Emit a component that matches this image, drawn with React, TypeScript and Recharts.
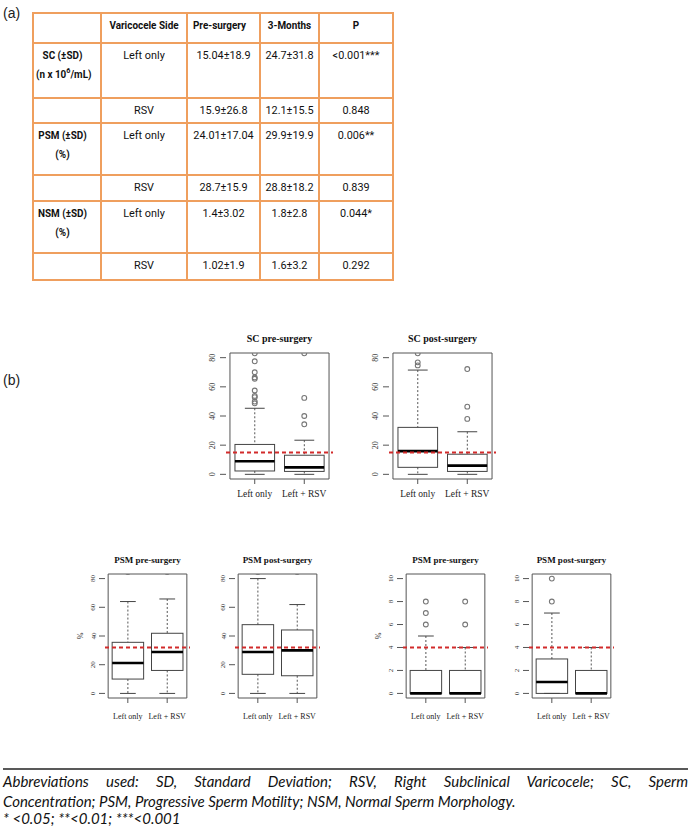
import React from "react";
import { ComposedChart, Bar, Scatter, XAxis, YAxis, ReferenceLine, ReferenceArea } from "recharts";

// ---------- table data ----------
const tableHeaders = ["", "Varicocele Side", "Pre-surgery", "3-Months", "P"];
const measureNames = ["SC (±SD)", "PSM (±SD)", "NSM (±SD)"];
const measureUnits = ["(n x 10^6/mL)", "(%)", "(%)"];
const sides = ["Left only", "RSV"];
const preSurgery = ["15.04±18.9", "15.9±26.8", "24.01±17.04", "28.7±15.9", "1.4±3.02", "1.02±1.9"];
const threeMonths = ["24.7±31.8", "12.1±15.5", "29.9±19.9", "28.8±18.2", "1.8±2.8", "1.6±3.2"];
const pValues = ["<0.001***", "0.848", "0.006**", "0.839", "0.044*", "0.292"];

// ---------- box plot data ----------
const groups = ["Left only", "Left + RSV"];

const scPreLow = [0, 0];
const scPreQ1 = [2.3, 2];
const scPreMedian = [9, 4.8];
const scPreQ3 = [20.5, 13.1];
const scPreHigh = [45.3, 23.4];
const scPreOutLeft = [48.7, 49.9, 52.9, 53.8, 57.5, 65.5, 66.4, 70, 77.5, 83];
const scPreOutRsv = [34.3, 40, 52.4, 83];

const scPostLow = [0, 0];
const scPostQ1 = [4.8, 2];
const scPostMedian = [15.9, 6];
const scPostQ3 = [32.2, 13.8];
const scPostHigh = [71.5, 29.2];
const scPostOutLeft = [74.7, 76.8, 83];
const scPostOutRsv = [38, 46.4, 72.2];

const psmPreLow = [0, 0];
const psmPreQ1 = [10, 16];
const psmPreMedian = [21.2, 28.8];
const psmPreQ3 = [35.6, 41.9];
const psmPreHigh = [64, 65.8];
const psmPreOutLeft: number[] = [];
const psmPreOutRsv: number[] = [];

const psmPostLow = [0, 0];
const psmPostQ1 = [13.3, 12.3];
const psmPostMedian = [28.8, 30];
const psmPostQ3 = [47.9, 44.2];
const psmPostHigh = [80, 61.9];
const psmPostOutLeft: number[] = [];
const psmPostOutRsv: number[] = [];

const nsmPreLow = [0, 0];
const nsmPreQ1 = [0, 0];
const nsmPreMedian = [0, 0];
const nsmPreQ3 = [2, 2];
const nsmPreHigh = [5, 4];
const nsmPreOutLeft = [6, 7, 8];
const nsmPreOutRsv = [6, 8];

const nsmPostLow = [0, 0];
const nsmPostQ1 = [0, 0];
const nsmPostMedian = [1, 0];
const nsmPostQ3 = [3, 2];
const nsmPostHigh = [7, 4];
const nsmPostOutLeft = [8, 10];
const nsmPostOutRsv: number[] = [];

const scRef = 15;
const psmRef = 32;
const nsmRef = 4;
const pctTicks = [0, 20, 40, 60, 80];
const nsmTicks = [0, 2, 4, 6, 8, 10];
const pctDomain: [number, number] = [-3.2, 83.2];
const nsmDomain: [number, number] = [-0.4, 10.4];

const footLine1 = "Abbreviations used: SD, Standard Deviation; RSV, Right Subclinical Varicocele; SC, Sperm";
const footLine2 = "Concentration; PSM, Progressive Sperm Motility; NSM, Normal Sperm Morphology.";
const footLine3 = "* <0.05; **<0.01; ***<0.001";

// ---------- layout ----------
const colX = [33, 101, 187, 260, 319, 393];
const rowY = [13, 43, 98, 123, 175, 201, 253, 280];
const ORANGE = "#EF9F5E";
const TABLE_FONT = "Roboto, 'Liberation Sans', sans-serif";
const SERIF = "'Liberation Serif', 'Times New Roman', serif";
const AX = "#555";

const BoxShape = (props: any) => {
  const { x, y, width, height, payload } = props;
  if (x == null || y == null || !payload) return null;
  const top = Math.min(y, y + height);
  const bottom = Math.max(y, y + height);
  const lo = payload.low;
  const hi = payload.high;
  const px = (v: number) => bottom - ((v - lo) / (hi - lo)) * (bottom - top);
  const cx = x + width / 2;
  const sw = width / 4;
  const yq1 = px(payload.q1);
  const yq3 = px(payload.q3);
  return (
    <g>
      <line x1={cx} x2={cx} y1={px(hi)} y2={yq3} stroke="#555" strokeWidth={1} strokeDasharray="2 2" />
      <line x1={cx} x2={cx} y1={yq1} y2={px(lo)} stroke="#555" strokeWidth={1} strokeDasharray="2 2" />
      <line x1={cx - sw} x2={cx + sw} y1={px(hi)} y2={px(hi)} stroke="#444" strokeWidth={1} />
      <line x1={cx - sw} x2={cx + sw} y1={px(lo)} y2={px(lo)} stroke="#444" strokeWidth={1} />
      <rect x={x} y={yq3} width={width} height={Math.max(0, yq1 - yq3)} fill="none" stroke="#444" strokeWidth={1} />
      <line x1={x} x2={x + width} y1={px(payload.med)} y2={px(payload.med)} stroke="#000" strokeWidth={2.6} />
    </g>
  );
};

const XTick = (props: any) => {
  const { x, y, payload, fs, dy } = props;
  return (
    <text x={x} y={y + dy} textAnchor="middle" fontSize={fs} fontFamily={SERIF} fill="#222">
      {payload.value}
    </text>
  );
};

const YTick = (props: any) => {
  const { x, y, payload, fs, dx } = props;
  const xb = x + dx;
  return (
    <text x={xb} y={y} transform={`rotate(-90 ${xb} ${y})`} textAnchor="middle" fontSize={fs} fontFamily={SERIF} fill="#333">
      {payload.value}
    </text>
  );
};

type PanelProps = {
  left: number;
  top: number;
  w: number;
  h: number;
  low: number[];
  q1: number[];
  med: number[];
  q3: number[];
  high: number[];
  outLeft: number[];
  outRsv: number[];
  domain: [number, number];
  ticks: number[];
  refY: number;
  xfs: number;
  xdy: number;
  yfs: number;
  ydx: number;
};

const YW = 30;
const XH = 30;

function BoxPanel(p: PanelProps) {
  const rows = groups.map((g, i) => ({
    group: g,
    range: [p.low[i], p.high[i]],
    low: p.low[i],
    q1: p.q1[i],
    med: p.med[i],
    q3: p.q3[i],
    high: p.high[i],
  }));
  const outliers = [
    ...p.outLeft.map((v) => ({ group: groups[0], v })),
    ...p.outRsv.map((v) => ({ group: groups[1], v })),
  ];
  const pad = (p.w * (1 - 2 / 2.16)) / 2;
  const barW = (0.8 * p.w) / 2.16;
  return (
    <div style={{ position: "absolute", left: p.left - YW, top: p.top - 2 }}>
      <ComposedChart
        width={YW + p.w + 2}
        height={p.h + XH + 2}
        data={rows}
        margin={{ top: 2, right: 2, left: 0, bottom: 0 }}
      >
        <XAxis
          dataKey="group"
          type="category"
          allowDuplicatedCategory={false}
          padding={{ left: pad, right: pad }}
          height={XH}
          axisLine={false}
          tickLine={{ stroke: AX }}
          tickSize={5}
          interval={0}
          tick={(tp: any) => <XTick {...tp} fs={p.xfs} dy={p.xdy} />}
        />
        <YAxis
          type="number"
          domain={p.domain}
          ticks={p.ticks}
          allowDataOverflow
          width={YW}
          axisLine={false}
          tickLine={{ stroke: AX }}
          tickSize={6}
          interval={0}
          tick={(tp: any) => <YTick {...tp} fs={p.yfs} dx={p.ydx} />}
        />
        <ReferenceArea y1={p.domain[0]} y2={p.domain[1]} fill="none" fillOpacity={0} stroke={AX} strokeWidth={1} ifOverflow="visible" />
        <Bar dataKey="range" barSize={barW} shape={BoxShape} isAnimationActive={false} />
        <Scatter
          data={outliers}
          dataKey="v"
          isAnimationActive={false}
          shape={(sp: any) => <circle cx={sp.cx} cy={sp.cy} r={2.4} fill="none" stroke="#777" strokeWidth={1.1} />}
        />
        <ReferenceLine y={p.refY} stroke="#d22b2b" strokeWidth={2} strokeDasharray="4 3" />
      </ComposedChart>
    </div>
  );
}

const TOP_W = 107;
const TOP_H = 126;
const TOP_Y = 353;
const BOT_W = 85;
const BOT_H = 124;
const BOT_Y = 574;

const panels = [
  { title: "SC pre-surgery", left: 226, top: TOP_Y, w: TOP_W, h: TOP_H, low: scPreLow, q1: scPreQ1, med: scPreMedian, q3: scPreQ3, high: scPreHigh, outLeft: scPreOutLeft, outRsv: scPreOutRsv, domain: pctDomain, ticks: pctTicks, refY: scRef, xfs: 9.5, xdy: 11, yfs: 8, ydx: -3, tfs: 10, ylab: "" },
  { title: "SC post-surgery", left: 389, top: TOP_Y, w: TOP_W, h: TOP_H, low: scPostLow, q1: scPostQ1, med: scPostMedian, q3: scPostQ3, high: scPostHigh, outLeft: scPostOutLeft, outRsv: scPostOutRsv, domain: pctDomain, ticks: pctTicks, refY: scRef, xfs: 9.5, xdy: 11, yfs: 8, ydx: -3, tfs: 10, ylab: "" },
  { title: "PSM pre-surgery", left: 105, top: BOT_Y, w: BOT_W, h: BOT_H, low: psmPreLow, q1: psmPreQ1, med: psmPreMedian, q3: psmPreQ3, high: psmPreHigh, outLeft: psmPreOutLeft, outRsv: psmPreOutRsv, domain: pctDomain, ticks: pctTicks, refY: psmRef, xfs: 8, xdy: 14, yfs: 7, ydx: -1.5, tfs: 9, ylab: "%" },
  { title: "PSM post-surgery", left: 235, top: BOT_Y, w: BOT_W, h: BOT_H, low: psmPostLow, q1: psmPostQ1, med: psmPostMedian, q3: psmPostQ3, high: psmPostHigh, outLeft: psmPostOutLeft, outRsv: psmPostOutRsv, domain: pctDomain, ticks: pctTicks, refY: psmRef, xfs: 8, xdy: 14, yfs: 7, ydx: -1.5, tfs: 9, ylab: "" },
  { title: "PSM pre-surgery", left: 403, top: BOT_Y, w: BOT_W, h: BOT_H, low: nsmPreLow, q1: nsmPreQ1, med: nsmPreMedian, q3: nsmPreQ3, high: nsmPreHigh, outLeft: nsmPreOutLeft, outRsv: nsmPreOutRsv, domain: nsmDomain, ticks: nsmTicks, refY: nsmRef, xfs: 8, xdy: 14, yfs: 7, ydx: -1.5, tfs: 9, ylab: "%" },
  { title: "PSM post-surgery", left: 529, top: BOT_Y, w: BOT_W, h: BOT_H, low: nsmPostLow, q1: nsmPostQ1, med: nsmPostMedian, q3: nsmPostQ3, high: nsmPostHigh, outLeft: nsmPostOutLeft, outRsv: nsmPostOutRsv, domain: nsmDomain, ticks: nsmTicks, refY: nsmRef, xfs: 8, xdy: 14, yfs: 7, ydx: -1.5, tfs: 9, ylab: "" },
];

function renderUnit(u: string) {
  if (u.includes("^6")) {
    const [a, b] = u.split("^6");
    return (
      <>
        {a}
        <sup style={{ fontSize: 8, lineHeight: 0 }}>6</sup>
        {b}
      </>
    );
  }
  return u;
}

function Table() {
  const cells: React.ReactNode[] = [];
  colX.forEach((x, i) =>
    cells.push(
      <div key={"v" + i} style={{ position: "absolute", left: x - 0.75, top: rowY[0] - 0.75, width: 1.5, height: rowY[rowY.length - 1] - rowY[0] + 1.5, background: ORANGE }} />
    )
  );
  rowY.forEach((y, i) =>
    cells.push(
      <div key={"h" + i} style={{ position: "absolute", left: colX[0] - 0.75, top: y - 0.75, width: colX[colX.length - 1] - colX[0] + 1.5, height: 1.5, background: ORANGE }} />
    )
  );
  const cell = (key: string, r: number, c: number, content: React.ReactNode, bold = false, padR = 0) =>
    cells.push(
      <div
        key={key}
        style={{
          position: "absolute",
          left: colX[c],
          top: rowY[r] + 2.5,
          width: colX[c + 1] - colX[c] - padR,
          textAlign: "center",
          lineHeight: "19.5px",
          fontSize: bold ? 11 : 11.3,
          fontWeight: bold ? 700 : 400,
          fontFamily: TABLE_FONT,
          color: "#111",
          whiteSpace: "nowrap",
          transform: bold ? "scaleX(0.9)" : "scaleX(0.96)",
          transformOrigin: "50% 50%",
        }}
      >
        {content}
      </div>
    );
  tableHeaders.forEach((h, c) => cell("hd" + c, 0, c, h, true, c === 2 ? 8 : 0));
  for (let i = 0; i < 6; i++) {
    const r = i + 1;
    if (i % 2 === 0) {
      const m = i / 2;
      cell("m" + i, r, 0, <>{measureNames[m]}<br />{renderUnit(measureUnits[m])}</>, true, 9);
    }
    cell("s" + i, r, 1, sides[i % 2]);
    cell("pre" + i, r, 2, preSurgery[i]);
    cell("post" + i, r, 3, threeMonths[i]);
    cell("p" + i, r, 4, pValues[i]);
  }
  return <>{cells}</>;
}

export default function App() {
  return (
    <div style={{ position: "absolute", left: 0, top: 0, width: 698, height: 836, background: "#fff", overflow: "hidden" }}>
      <Table />
      {panels.map((pn, i) => (
        <BoxPanel key={i} {...pn} />
      ))}
      <svg width={698} height={836} style={{ position: "absolute", left: 0, top: 0, pointerEvents: "none" }}>
        <text x={3} y={18} fontSize={14} fontFamily="'Liberation Sans', Arial, sans-serif" fill="#222">(a)</text>
        <text x={3} y={385} fontSize={14} fontFamily="'Liberation Sans', Arial, sans-serif" fill="#222">(b)</text>
        {panels.map((pn, i) => (
          <text key={"t" + i} x={pn.left + pn.w / 2} y={pn.top - 11} textAnchor="middle" fontSize={pn.tfs} fontWeight={700} fontFamily={SERIF} fill="#111">
            {pn.title}
          </text>
        ))}
        {panels
          .filter((pn) => pn.ylab)
          .map((pn, i) => {
            const lx = pn.left - 22;
            const ly = pn.top + pn.h / 2;
            return (
              <text key={"yl" + i} x={lx} y={ly} transform={`rotate(-90 ${lx} ${ly})`} textAnchor="middle" fontSize={8} fontFamily={SERIF} fill="#333">
                {pn.ylab}
              </text>
            );
          })}
        <line x1={3} x2={688} y1={769} y2={769} stroke="#222" strokeWidth={1.6} />
      </svg>
      <div style={{ position: "absolute", left: 3, top: 772, width: 685, fontFamily: "Lato, 'Open Sans', sans-serif", fontStyle: "italic", fontSize: 15, lineHeight: "19px", color: "#111" }}>
        <div style={{ textAlign: "justify", textAlignLast: "justify" as any }}>{footLine1}</div>
        <div style={{ position: "absolute", top: 20, left: 0, whiteSpace: "nowrap" }}>{footLine2}</div>
        <div style={{ position: "absolute", top: 37, left: 0, whiteSpace: "nowrap" }}>{footLine3}</div>
      </div>
    </div>
  );
}
